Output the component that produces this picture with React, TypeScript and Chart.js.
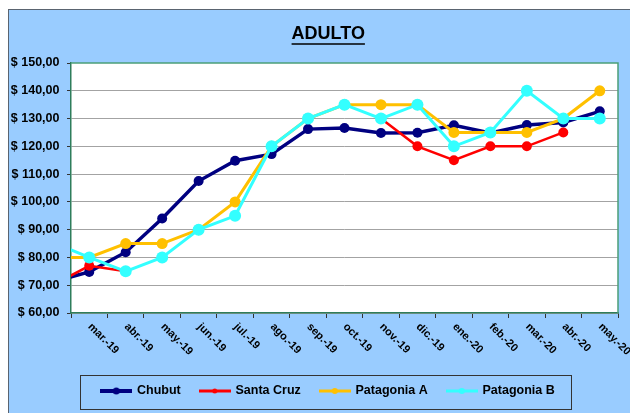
import React, { useEffect, useRef } from 'react';
import { Chart, registerables } from 'chart.js';

Chart.register(...registerables);

// ---- data ----
const categories = ['feb.-19', 'mar.-19', 'abr.-19', 'may.-19', 'jun.-19', 'jul.-19', 'ago.-19', 'sep.-19', 'oct.-19', 'nov.-19', 'dic.-19', 'ene.-20', 'feb.-20', 'mar.-20', 'abr.-20', 'may.-20'];
const chubut = [71.2, 74.8, 81.9, 94, 107.5, 114.8, 117.2, 126.2, 126.6, 124.8, 124.9, 127.6, 124.8, 127.7, 128.6, 132.6];
const santaCruz = [70, 77, 75, null, null, null, null, null, null, 130, 120, 115, 120, 120, 125, null];
const patagoniaA = [80, 80, 85, 85, 90, 100, 120, 130, 135, 135, 135, 125, 125, 125, 130, 140];
const patagoniaB = [85.5, 80, 75, 80, 90, 95, 120, 130, 135, 130, 135, 120, 125, 140, 130, 130];
const seriesNames = ['Chubut', 'Santa Cruz', 'Patagonia A', 'Patagonia B'];
const yMin = 60;
const yMax = 150;
const yStep = 10;
const titleText = 'ADULTO';

const FONT = "'Liberation Sans', Arial, sans-serif";

function makeIcon(color: string, lw: number, r: number) {
  const c = document.createElement('canvas');
  c.width = 32;
  c.height = 12;
  const g = c.getContext('2d')!;
  g.strokeStyle = color;
  g.lineWidth = lw;
  g.beginPath();
  g.moveTo(0, 6);
  g.lineTo(32, 6);
  g.stroke();
  g.fillStyle = color;
  g.beginPath();
  g.arc(16, 6, r, 0, Math.PI * 2);
  g.fill();
  return c;
}

const SHIFT = 14.75;

const decorPlugin = {
  id: 'decor',
  afterLayout(chart: any) {
    if (chart.titleBlock) {
      chart.titleBlock.left += SHIFT;
      chart.titleBlock.right += SHIFT;
    }
    if (chart.legend) {
      chart.legend.left += SHIFT;
      chart.legend.right += SHIFT;
    }
  },
  beforeDraw(chart: any) {
    const { ctx, chartArea } = chart;
    ctx.save();
    ctx.fillStyle = '#ffffff';
    ctx.fillRect(chartArea.left, chartArea.top, chartArea.right - chartArea.left, chartArea.bottom - chartArea.top);
    ctx.restore();
  },
  beforeDatasetsDraw(chart: any) {
    const { ctx, chartArea } = chart;
    ctx.save();
    ctx.strokeStyle = '#4b9f78';
    ctx.lineWidth = 1.5;
    ctx.beginPath();
    ctx.moveTo(chartArea.left, chartArea.top);
    ctx.lineTo(chartArea.right, chartArea.top);
    ctx.lineTo(chartArea.right, chartArea.bottom);
    ctx.stroke();
    ctx.restore();
  },
  afterDraw(chart: any) {
    const { ctx, chartArea } = chart;
    const xs = chart.scales.x;
    // rotated x labels (reading downward)
    ctx.save();
    ctx.fillStyle = '#000';
    ctx.font = `bold 11px ${FONT}`;
    ctx.textAlign = 'left';
    ctx.textBaseline = 'middle';
    xs.ticks.forEach((t: any) => {
      const px = xs.getPixelForValue(t.value);
      ctx.save();
      ctx.translate(px + 0.5, chartArea.bottom + 12);
      ctx.rotate(Math.PI / 4);
      ctx.fillText(categories[t.value], 0, 0);
      ctx.restore();
    });
    ctx.restore();
    // title underline
    const tb = chart.titleBlock;
    if (tb) {
      ctx.save();
      ctx.font = `bold 18px ${FONT}`;
      const w = ctx.measureText(titleText).width;
      const cx = (tb.left + tb.right) / 2;
      const y = tb.top + 13.7 + 10.8 + 9.5;
      ctx.strokeStyle = '#000';
      ctx.lineWidth = 1.6;
      ctx.beginPath();
      ctx.moveTo(cx - w / 2, y);
      ctx.lineTo(cx + w / 2, y);
      ctx.stroke();
      ctx.restore();
    }
    // legend frame
    const lg = chart.legend;
    if (lg && lg.legendHitBoxes && lg.legendHitBoxes.length) {
      const hb = lg.legendHitBoxes;
      const l = hb[0].left - 21.5;
      const r = hb[hb.length - 1].left + hb[hb.length - 1].width + 17;
      const top = hb[0].top - 10.25;
      const bot = hb[0].top + 23.25;
      ctx.save();
      ctx.strokeStyle = '#333';
      ctx.lineWidth = 1;
      ctx.strokeRect(Math.round(l) + 0.5, Math.round(top) + 0.5, Math.round(r - l), Math.round(bot - top));
      ctx.restore();
    }
  },
};

export default function App() {
  const ref = useRef<HTMLCanvasElement | null>(null);

  useEffect(() => {
    if (!ref.current) return;
    const styles = [
      { color: '#000080', bw: 3.5, pr: 5, icon: [4, 3.5], order: 3 },
      { color: '#FF0000', bw: 2.5, pr: 5, icon: [3, 2.5], order: 2 },
      { color: '#FFC000', bw: 3, pr: 5.5, icon: [3, 3], order: 1 },
      { color: '#33FFFF', bw: 3, pr: 6, icon: [3, 3], order: 0 },
    ];
    const series = [chubut, santaCruz, patagoniaA, patagoniaB];
    const icons = styles.map((s) => makeIcon(s.color, s.icon[0], s.icon[1]));

    const chart = new Chart(ref.current, {
      type: 'line',
      data: {
        datasets: series.map((vals, k) => ({
          label: seriesNames[k],
          data: categories.map((_, i) => ({ x: i, y: vals[i] })),
          borderColor: styles[k].color,
          backgroundColor: styles[k].color,
          borderWidth: styles[k].bw,
          pointRadius: styles[k].pr,
          pointBorderWidth: 0,
          pointBackgroundColor: styles[k].color,
          tension: 0,
          spanGaps: false,
          order: styles[k].order,
        })),
      },
      options: {
        responsive: false,
        animation: false,
        events: [],
        layout: { padding: { left: 0, right: 31, top: 0, bottom: 5.75 } },
        plugins: {
          tooltip: { enabled: false },
          title: {
            display: true,
            text: titleText,
            color: '#000',
            font: { family: FONT, size: 18, weight: 'bold', lineHeight: 1.2 },
            padding: { top: 13.7, bottom: 17.7 },
          },
          legend: {
            position: 'bottom',
            labels: {
              usePointStyle: true,
              pointStyleWidth: 29,
              padding: 19.5,
              color: '#000',
              font: { family: FONT, size: 12.5, weight: 'bold' },
              generateLabels: (c: any) =>
                c.data.datasets.map((ds: any, i: number) => ({
                  text: ds.label,
                  pointStyle: icons[i],
                  fillStyle: styles[i].color,
                  strokeStyle: styles[i].color,
                  lineWidth: 0,
                  hidden: false,
                  datasetIndex: i,
                  fontColor: '#000',
                })),
            },
          },
        },
        scales: {
          x: {
            type: 'linear',
            min: 0.5,
            max: 15.5,
            afterBuildTicks: (s: any) => {
              s.ticks = categories.map((_, i) => ({ value: i })).filter((t) => t.value >= 1);
            },
            afterFit: (s: any) => {
              s.height = 52.25;
            },
            ticks: { display: false, autoSkip: false },
            grid: { offset: true, drawOnChartArea: false, tickLength: 5, tickColor: '#333', color: '#333' },
            border: { color: '#2e7d5b', width: 1.5 },
          },
          y: {
            min: yMin,
            max: yMax,
            afterFit: (s: any) => {
              s.width = 62;
            },
            ticks: {
              stepSize: yStep,
              color: '#000',
              padding: 7.5,
              font: { family: FONT, size: 12.5, weight: 'bold' },
              callback: (v: any) => '$ ' + Number(v).toFixed(2).replace('.', ','),
            },
            grid: {
              color: (ctx: any) => (ctx.tick && ctx.tick.value === yMax ? 'rgba(0,0,0,0)' : '#a3a3a3'),
              lineWidth: 1,
              tickLength: 4,
              tickColor: '#333',
            },
            border: { color: '#2e7d5b', width: 1.5 },
          },
        },
      } as any,
      plugins: [decorPlugin],
    });
    return () => chart.destroy();
  }, []);

  return (
    <div style={{ position: 'fixed', left: 0, top: 0, width: 630, height: 413, overflow: 'hidden', background: '#fff' }}>
      <div
        style={{
          position: 'absolute',
          left: 8,
          top: 9,
          width: 700,
          height: 500,
          borderTop: '1px solid #5a6470',
          borderLeft: '1px solid #5a6470',
          background: '#99CCFF',
        }}
      >
        <canvas ref={ref} width={640} height={403} style={{ position: 'absolute', left: 0, top: 0, display: 'block' }} />
      </div>
    </div>
  );
}
